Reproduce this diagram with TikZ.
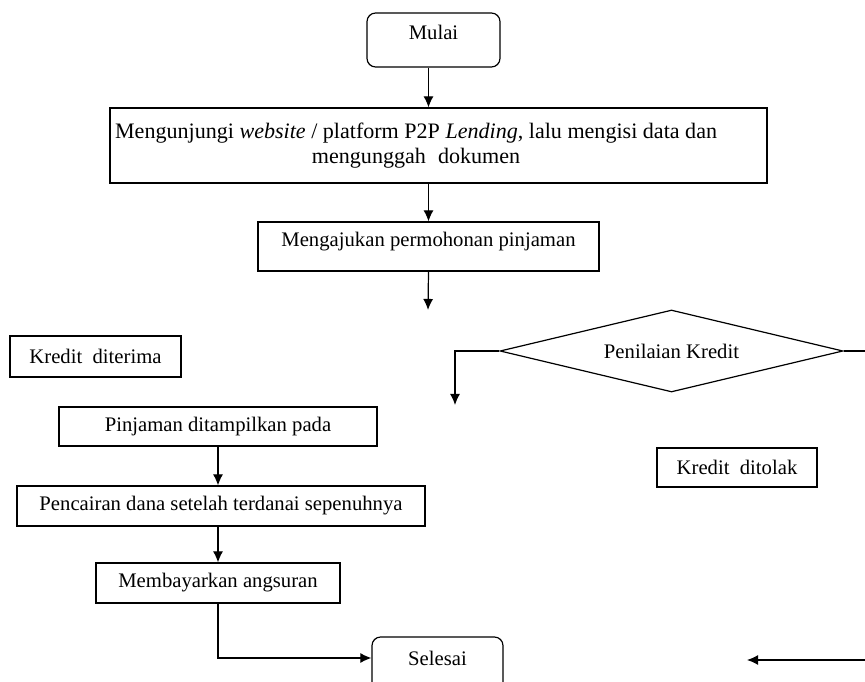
\documentclass[tikz,border=0pt]{standalone}
\usepackage{fontspec}
\setmainfont{Liberation Serif}
\usetikzlibrary{%
    shapes.geometric,%
    arrows.meta
}
\newcommand\pxu{0.58pt}

\begin{document}
\begin{tikzpicture}[x=0.58pt,y=-0.58pt,>={Latex[length=6.4pt,width=5.8pt]},
    box/.style={draw,line width=0.7pt,inner sep=0pt,align=center,
        font=\fontsize{12}{14.5}\selectfont},
    term/.style={box,rounded corners=5pt},
    topish/.style={text height=8pt,text depth=8pt},
    link/.style={->,line width=0.7pt}]
\useasboundingbox (0,0) rectangle (865,682);

\node[term,topish,minimum width=133*\pxu,minimum height=54*\pxu] (mulai) at (433.5,40) {Mulai};
\node[box,font=\fontsize{12.8}{14.5}\selectfont,minimum width=657*\pxu,minimum height=75*\pxu] (visit) at (438.5,145.5)
    {\hspace*{-26pt}Mengunjungi \textit{website} / platform P2P \textit{Lending}, lalu mengisi data dan\\
     \hspace*{-26pt}mengunggah\hspace{0.55em}dokumen};
\node[box,topish,minimum width=341*\pxu,minimum height=49*\pxu] (ajukan) at (428.5,246.5) {Mengajukan permohonan pinjaman};
\node[box,diamond,aspect=4.18,minimum width=343*\pxu,minimum height=82*\pxu] (nilai) at (671.5,351) {Penilaian Kredit};

\node[box,minimum width=171*\pxu,minimum height=41*\pxu] (terima) at (95.5,356.5) {Kredit~ diterima};
\node[box,minimum width=318*\pxu,minimum height=39*\pxu] (pinjam) at (218,426.5) {Pinjaman ditampilkan pada};
\node[box,minimum width=408*\pxu,minimum height=40*\pxu] (cair) at (221,506) {Pencairan dana setelah terdanai sepenuhnya};
\node[box,minimum width=244*\pxu,minimum height=40*\pxu] (bayar) at (218,583) {Membayarkan angsuran};
\node[box,minimum width=160*\pxu,minimum height=39*\pxu] (tolak) at (737,467.5) {Kredit~ ditolak};
\node[term,text height=8pt,text depth=5.8pt,minimum width=131*\pxu,minimum height=54*\pxu] (selesai) at (437.5,664) {Selesai};

\coordinate (a1) at (428,310);
\coordinate (kiri) at (455,405);
\coordinate (kanan) at (866,351);
\coordinate (belok) at (218,658);
\coordinate (bawah1) at (866,660);
\coordinate (bawah2) at (747,660);

\draw[link] (mulai.south -| ajukan) -- (visit.north -| ajukan);
\draw[link] (visit.south -| ajukan) -- (ajukan.north);
\draw[link] (ajukan.south) -- (a1);
\draw[link] (nilai.west) -| (kiri);
\draw[line width=0.7pt] (nilai.east) -- (kanan);
\draw[link] (pinjam.south) -- (pinjam.south |- cair.north);
\draw[link] (cair.south -| bayar) -- (bayar.north);
\draw[link] (bayar.south) -- (belok) -- (belok -| selesai.west);
\draw[link] (bawah1) -- (bawah2);

\end{tikzpicture}
\end{document}
